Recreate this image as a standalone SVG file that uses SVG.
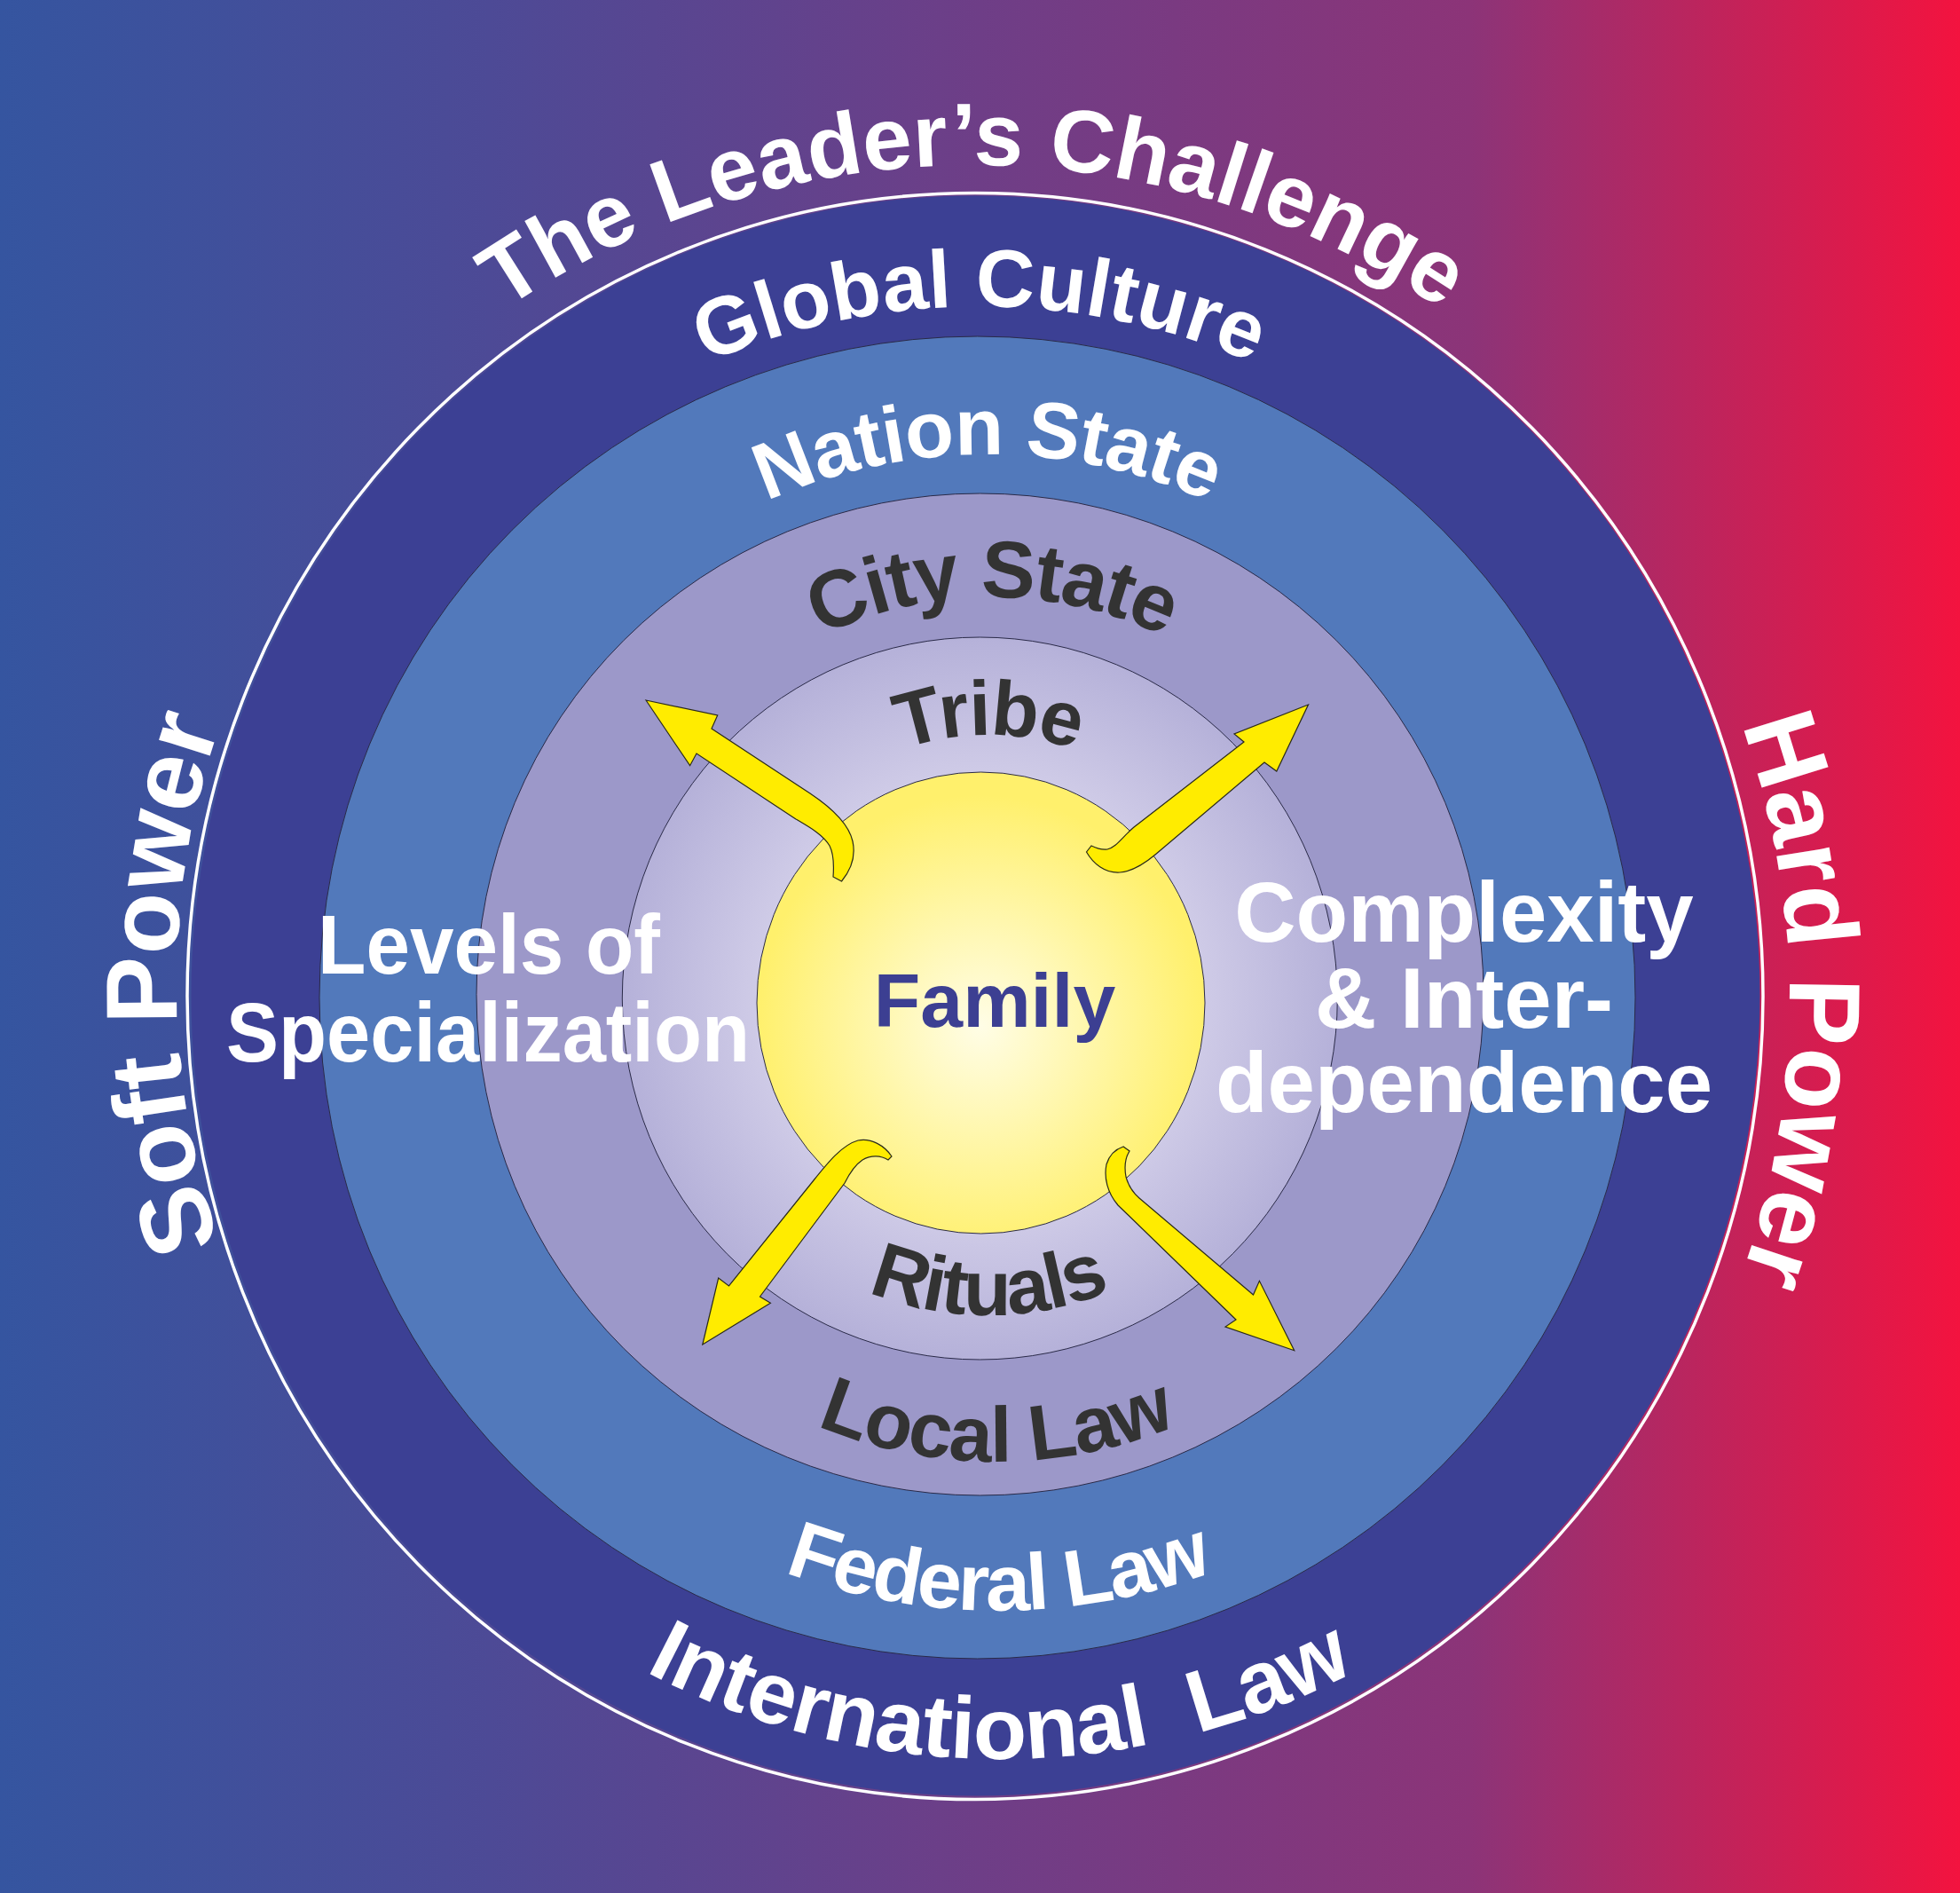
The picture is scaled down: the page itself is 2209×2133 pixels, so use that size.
<svg xmlns="http://www.w3.org/2000/svg" xmlns:xlink="http://www.w3.org/1999/xlink" width="2209" height="2133" viewBox="0 0 2209 2133">
<defs>
<linearGradient id="bgGrad" x1="0" y1="0" x2="1" y2="0">
<stop offset="0" stop-color="#3555a0"/>
<stop offset="0.25" stop-color="#4d4a96"/>
<stop offset="0.5" stop-color="#6e3e87"/>
<stop offset="0.75" stop-color="#8c3478"/>
<stop offset="1" stop-color="#f3133f"/>
</linearGradient>
<radialGradient id="tribeGrad" cx="0.5" cy="0.5" r="0.5">
<stop offset="0" stop-color="#f6f4fc"/>
<stop offset="0.65" stop-color="#cdc9e6"/>
<stop offset="1" stop-color="#b5b1d9"/>
</radialGradient>
<radialGradient id="famGrad" cx="0.5" cy="0.55" r="0.5">
<stop offset="0" stop-color="#fffde6"/>
<stop offset="1" stop-color="#fff06c"/>
</radialGradient>
<path id="pTitle" d="M 160,1123 A 937,937 0 0 1 2034,1123"/>
<path id="pGlobal" d="M 326,1123 A 778,778 0 0 1 1882,1123"/>
<path id="pNation" d="M 502,1123 A 611,611 0 0 1 1724,1123"/>
<path id="pCity" d="M 668,1123 A 450,450 0 0 1 1568,1123"/>
<path id="pTribe" d="M 819,1123 A 295,295 0 0 1 1409,1123"/>
<path id="pRituals" d="M 755,1123 A 359,359 0 0 0 1473,1123"/>
<path id="pLocal" d="M 599,1123 A 524,524 0 0 0 1647,1123"/>
<path id="pFederal" d="M 433,1123 A 692,692 0 0 0 1817,1123"/>
<path id="pIntl" d="M 268,1123 A 859,859 0 0 0 1986,1123"/>
<path id="pSoft" d="M 1099,2009 A 900,900 0 0 1 1099,209"/>
<path id="pHard" d="M 1099,209 A 918,918 0 0 1 1099,2045"/>
<style>
.lbl{font-family:"Liberation Sans",Arial,Helvetica,sans-serif;font-weight:bold;text-anchor:middle}
.w{fill:#ffffff}
.d{fill:#333333}
.ring{stroke:#2a2a48;stroke-width:1}
.arrow{fill:#ffec00;stroke:#2a2a1a;stroke-width:1.2;stroke-linejoin:miter}
</style>
</defs>

<rect id="background" x="0" y="0" width="2209" height="2133" fill="url(#bgGrad)"/>

<g id="frame-title">
<text class="lbl w" font-size="100"><textPath href="#pTitle" xlink:href="#pTitle" startOffset="50%">The Leader’s Challenge</textPath></text>
<text class="lbl w" font-size="114"><textPath href="#pSoft" xlink:href="#pSoft" startOffset="50%">Soft Power</textPath></text>
<text class="lbl w" font-size="114"><textPath href="#pHard" xlink:href="#pHard" startOffset="50%">Hard Power</textPath></text>
</g>

<g id="ring-global">
<ellipse cx="1099" cy="1122.5" rx="888" ry="905" fill="none" stroke="#ffffff" stroke-width="3.5"/>
<ellipse cx="1099.5" cy="1122" rx="884" ry="901.5" fill="#3c4094"/>
<text class="lbl w" font-size="92"><textPath href="#pGlobal" xlink:href="#pGlobal" startOffset="50%">Global Culture</textPath></text>
<text class="lbl w" font-size="99" letter-spacing="-0.5"><textPath href="#pIntl" xlink:href="#pIntl" startOffset="50%">International&#160; Law</textPath></text>
</g>

<g id="ring-nation">
<ellipse class="ring" cx="1101.5" cy="1124" rx="741.5" ry="745" fill="#5279bb"/>
<text class="lbl w" font-size="90" letter-spacing="-1"><textPath href="#pNation" xlink:href="#pNation" startOffset="50%">Nation State</textPath></text>
<text class="lbl w" font-size="90" letter-spacing="-2.5"><textPath href="#pFederal" xlink:href="#pFederal" startOffset="50%">Federal Law</textPath></text>
</g>

<g id="ring-city">
<ellipse class="ring" cx="1104.5" cy="1120.5" rx="567.5" ry="564.5" fill="#9c98c9"/>
<text class="lbl d" font-size="91" letter-spacing="-2"><textPath href="#pCity" xlink:href="#pCity" startOffset="50%">City State</textPath></text>
<text class="lbl d" font-size="88" letter-spacing="-1"><textPath href="#pLocal" xlink:href="#pLocal" startOffset="50%">Local Law</textPath></text>
</g>

<g id="ring-tribe">
<ellipse class="ring" cx="1104.3" cy="1125" rx="403" ry="407" fill="url(#tribeGrad)"/>
<text class="lbl d" font-size="87" letter-spacing="-2"><textPath href="#pTribe" xlink:href="#pTribe" startOffset="50%">Tribe</textPath></text>
<text class="lbl d" font-size="88" letter-spacing="-2"><textPath href="#pRituals" xlink:href="#pRituals" startOffset="50%">Rituals</textPath></text>
</g>

<g id="core-family">
<ellipse class="ring" cx="1105.5" cy="1130" rx="252.5" ry="260" fill="url(#famGrad)"/>
</g>

<g id="connectors">
<path class="arrow" d="M 728,789 L 808.7,806 L 802,821 L 913,894 C 940,912 957,930 961,948 C 964,962 961,978 948.5,993 L 939,988 C 940,975 940,963 935,953 C 928,941 914,933 897,923 L 785,849 L 777.6,862.7 Z"/>
<path class="arrow" d="M 1474.5,794 L 1391,827 L 1402,836 L 1278,932 C 1265,943 1258,955 1248,957 C 1240,958 1234,955 1230,953 L 1224.5,960 C 1232,973 1245,984 1262,983 C 1277,982 1290,973 1302,963 L 1425,859 L 1438.8,869 Z"/>
<path class="arrow" d="M 791.8,1515 L 809.7,1440 L 821.5,1449 L 917,1330 C 933,1310 949,1290 967,1285 C 982,1282 997,1291 1005,1303 L 1001,1307 C 993,1302 982,1301 972,1307 C 963,1313 957,1323 952,1333 L 856.5,1461 L 868.4,1468.3 Z"/>
<path class="arrow" d="M 1458.7,1521.7 L 1381,1495 L 1393,1487 L 1260,1358 C 1248,1344 1244,1327 1247,1312 C 1250,1302 1257,1295 1266,1292 L 1273,1297 C 1268,1305 1267,1315 1269,1326 C 1272,1337 1277,1344 1284,1350 L 1412.5,1459 L 1419.4,1443.3 Z"/>
</g>

<g id="label-family">
<text class="lbl" x="1121" y="1157" font-size="86" fill="#3c3f92">Family</text>
</g>

<g id="label-specialization">
<text class="lbl w" x="551" y="1097" font-size="94" textLength="386" lengthAdjust="spacingAndGlyphs">Levels of</text>
<text class="lbl w" x="550" y="1196" font-size="94" textLength="590" lengthAdjust="spacingAndGlyphs">Specialization</text>
</g>

<g id="label-complexity">
<text class="lbl w" x="1650" y="1061" font-size="96">Complexity</text>
<text class="lbl w" x="1650" y="1158" font-size="96">&amp; Inter-</text>
<text class="lbl w" x="1650" y="1253" font-size="96">dependence</text>
</g>
</svg>
